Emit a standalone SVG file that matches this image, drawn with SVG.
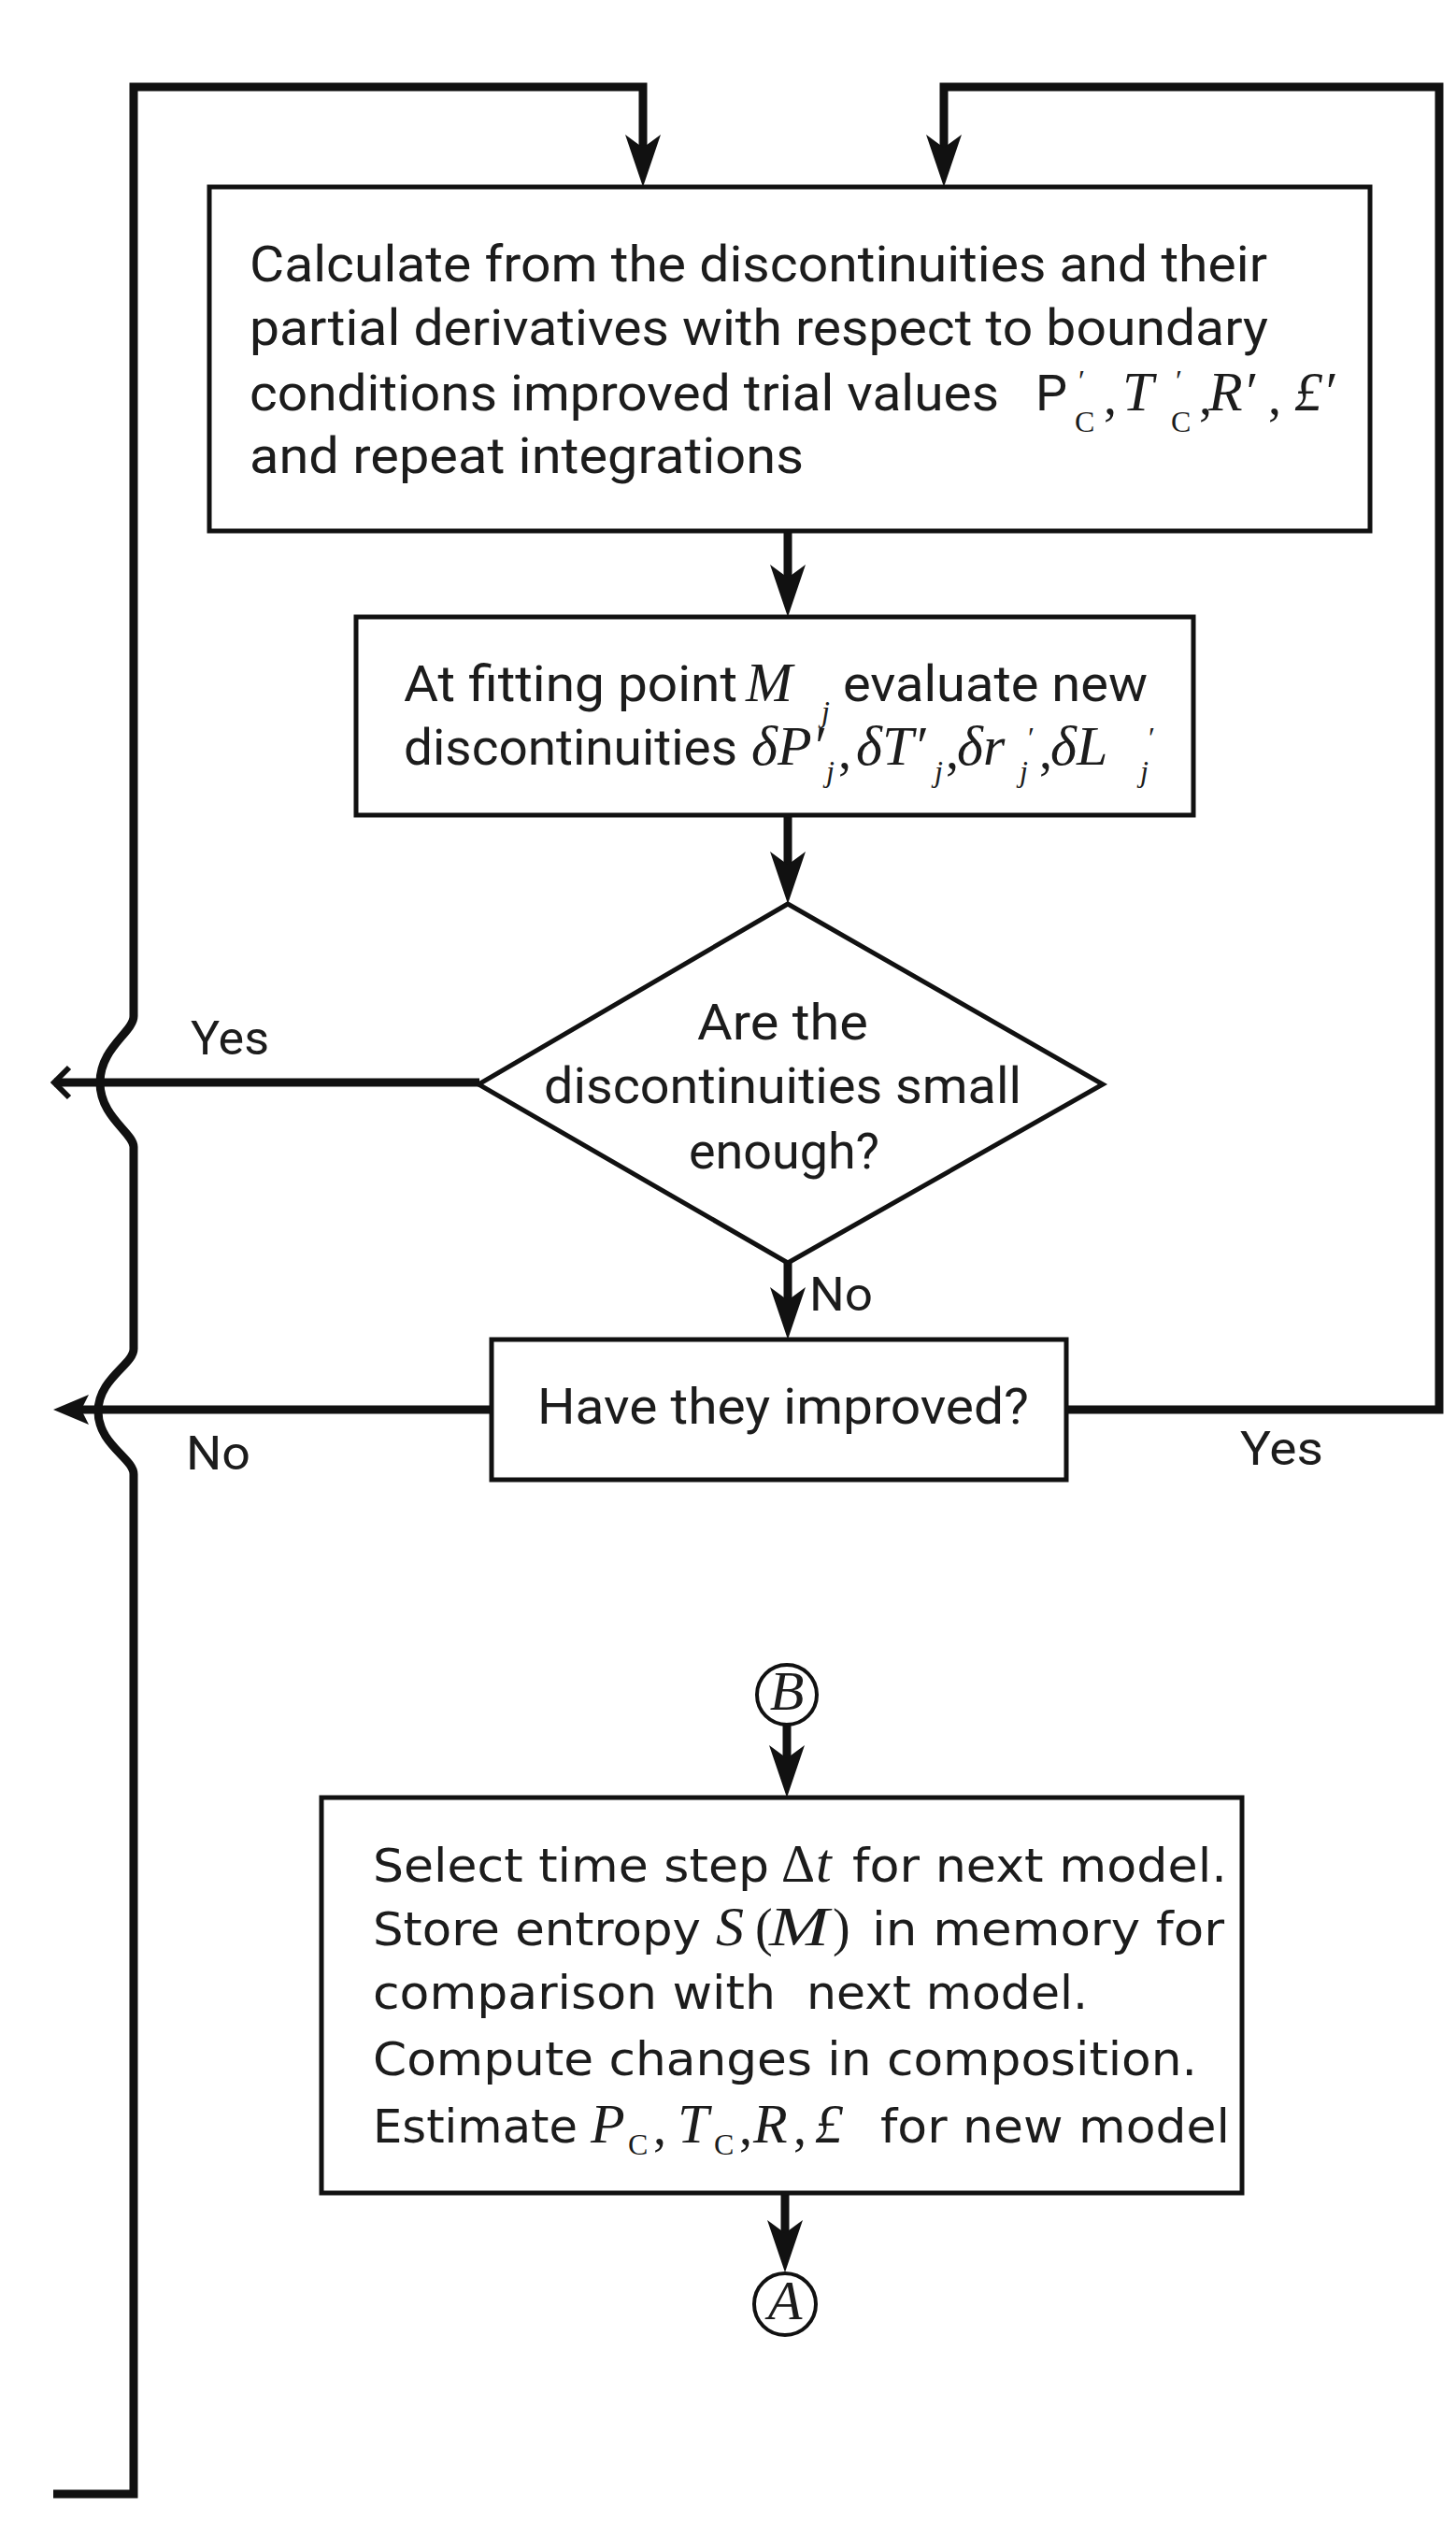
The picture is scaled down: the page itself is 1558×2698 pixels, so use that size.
<svg xmlns="http://www.w3.org/2000/svg" width="1558" height="2698" viewBox="0 0 1558 2698">
<style>
.box{fill:#fff;stroke:#111;stroke-width:5}
.conn{fill:none;stroke:#111;stroke-width:9}
.t{font-family:Roboto,"Liberation Sans",sans-serif;font-size:54px;fill:#1c1c1c}
.t3{font-family:"DejaVu Sans","Liberation Sans",sans-serif;font-size:49px;fill:#1c1c1c}
.lab{font-family:Roboto,"Liberation Sans",sans-serif;font-size:50px;fill:#1c1c1c}
.m{font-family:"Liberation Serif",serif;font-style:italic;font-size:60px;fill:#1c1c1c}
.mu{font-family:"Liberation Serif",serif;font-style:normal;font-size:56px;fill:#1c1c1c}
.sub{font-family:"Liberation Serif",serif;font-size:32px;fill:#1c1c1c}
.circ{fill:#fff;stroke:#111;stroke-width:4}
</style>
<defs>
<marker id="ah" markerUnits="userSpaceOnUse" viewBox="-58 -21 60 42" markerWidth="60" markerHeight="42" refX="-20" refY="0" orient="auto">
<path d="M0,0 L-56,-19 L-42,0 L-56,19 Z" fill="#111"/>
</marker>
<marker id="ah2" markerUnits="userSpaceOnUse" viewBox="-42 -18 44 36" markerWidth="44" markerHeight="36" refX="-14" refY="0" orient="auto">
<path d="M0,0 L-38,-16 L-30,0 L-38,16 Z" fill="#111"/>
</marker>
<marker id="chev" markerUnits="userSpaceOnUse" viewBox="-22 -20 26 40" markerWidth="26" markerHeight="40" refX="0" refY="0" orient="auto">
<path d="M-16,-16 L0,0 L-16,16" fill="none" stroke="#111" stroke-width="6"/>
</marker>
</defs>
<rect width="1558" height="2698" fill="#fff"/>

<g id="connectors">
<path class="conn" d="M57,2668 H143 V1577 C143,1560 105,1545 105,1510 C105,1475 143,1460 143,1443 V1227 C143,1212 107,1195 107,1158 C107,1121 143,1104 143,1087 V93 H688 V180" marker-end="url(#ah)"/>
<path class="conn" d="M1141,1508 H1540 V93 H1010 V180" marker-end="url(#ah)"/>
<path class="conn" d="M843,568 V640" marker-end="url(#ah)"/>
<path class="conn" d="M843,872 V947" marker-end="url(#ah)"/>
<path class="conn" d="M843,1351 V1413" marker-end="url(#ah)"/>
<path class="conn" d="M513,1158 H58" marker-end="url(#chev)"/>
<path class="conn" d="M526,1508 H71" marker-end="url(#ah2)"/>
<path class="conn" d="M842,1845 V1903" marker-end="url(#ah)"/>
<path class="conn" d="M840,2346 V2411" marker-end="url(#ah)"/>
<text class="lab" x="204" y="1128" textLength="84" lengthAdjust="spacingAndGlyphs">Yes</text>
<text class="lab" x="866" y="1402" textLength="68" lengthAdjust="spacingAndGlyphs">No</text>
<text class="lab" x="199" y="1572" textLength="69" lengthAdjust="spacingAndGlyphs">No</text>
<text class="lab" x="1327" y="1567" textLength="89" lengthAdjust="spacingAndGlyphs">Yes</text>
</g>

<g id="box-calculate">
<rect class="box" x="224" y="200" width="1242" height="368"/>
<text class="t" x="267" y="301" textLength="1089" lengthAdjust="spacingAndGlyphs">Calculate from the discontinuities and their</text>
<text class="t" x="267" y="369" textLength="1090" lengthAdjust="spacingAndGlyphs">partial derivatives with respect to boundary</text>
<text class="t" x="267" y="439" textLength="802" lengthAdjust="spacingAndGlyphs">conditions improved trial values</text>
<text class="t" x="1108" y="439">P</text>
<text class="sub" x="1154" y="418">′</text>
<text class="sub" x="1150" y="462">C</text>
<text class="mu" x="1181" y="443">,</text>
<text class="m" x="1201" y="439">T</text>
<text class="sub" x="1258" y="418">′</text>
<text class="sub" x="1253" y="462">C</text>
<text class="mu" x="1283" y="443">,</text>
<text class="m" x="1293" y="439">R′</text>
<text class="mu" x="1357" y="443">,</text>
<text class="m" x="1385" y="439">£′</text>
<text class="t" x="267" y="506" textLength="593" lengthAdjust="spacingAndGlyphs">and repeat integrations</text>
</g>

<g id="box-fitting">
<rect class="box" x="381" y="660" width="896" height="212"/>
<text class="t" x="432" y="750" textLength="357" lengthAdjust="spacingAndGlyphs">At fitting point</text>
<text class="m" x="798" y="750" font-size="64">M</text>
<text class="sub" x="879" y="772" font-style="italic">j</text>
<text class="t" x="902" y="750" textLength="326" lengthAdjust="spacingAndGlyphs">evaluate new</text>
<text class="t" x="432" y="818" textLength="357" lengthAdjust="spacingAndGlyphs">discontinuities</text>
<text class="m" x="804" y="818">δP′</text>
<text class="sub" x="884" y="836" font-style="italic">j</text>
<text class="mu" x="897" y="822">,</text>
<text class="m" x="916" y="818">δT′</text>
<text class="sub" x="1000" y="836" font-style="italic">j</text>
<text class="mu" x="1012" y="822">,</text>
<text class="m" x="1024" y="818">δr</text>
<text class="sub" x="1091" y="836" font-style="italic">j</text>
<text class="sub" x="1100" y="800">′</text>
<text class="mu" x="1112" y="822">,</text>
<text class="m" x="1124" y="818">δL</text>
<text class="sub" x="1220" y="836" font-style="italic">j</text>
<text class="sub" x="1229" y="800">′</text>
</g>

<g id="decision-small">
<polygon class="box" points="843,967 1180,1160 843,1351 512,1160"/>
<text class="t" x="746" y="1112" textLength="183" lengthAdjust="spacingAndGlyphs">Are the</text>
<text class="t" x="582" y="1180" textLength="511" lengthAdjust="spacingAndGlyphs">discontinuities small</text>
<text class="t" x="737" y="1250" textLength="204" lengthAdjust="spacingAndGlyphs">enough?</text>
</g>

<g id="box-improved">
<rect class="box" x="526" y="1433" width="615" height="150"/>
<text class="t" x="575" y="1523" textLength="526" lengthAdjust="spacingAndGlyphs">Have they improved?</text>
</g>

<g id="connector-B">
<circle class="circ" cx="842" cy="1813" r="32"/>
<text class="m" x="842" y="1829" font-size="46" text-anchor="middle">B</text>
</g>

<g id="box-select">
<rect class="box" x="344" y="1923" width="985" height="423"/>
<text class="t3" x="399" y="2013" textLength="424" lengthAdjust="spacingAndGlyphs">Select time step</text>
<text class="mu" x="836" y="2013" font-size="52">Δ</text>
<text class="m" x="873" y="2013" font-size="56">t</text>
<text class="t3" x="912" y="2013" textLength="401" lengthAdjust="spacingAndGlyphs">for next model.</text>
<text class="t3" x="399" y="2081" textLength="351" lengthAdjust="spacingAndGlyphs">Store entropy</text>
<text class="m" x="766" y="2081" font-size="58">S</text>
<text class="mu" x="808" y="2081" font-size="56">(</text>
<text class="m" x="823" y="2081" font-size="62" textLength="64" lengthAdjust="spacingAndGlyphs">M</text>
<text class="mu" x="891" y="2081" font-size="56">)</text>
<text class="t3" x="933" y="2081" textLength="377" lengthAdjust="spacingAndGlyphs">in memory for</text>
<text class="t3" x="399" y="2149" textLength="431" lengthAdjust="spacingAndGlyphs">comparison with</text>
<text class="t3" x="863" y="2149" textLength="301" lengthAdjust="spacingAndGlyphs">next model.</text>
<text class="t3" x="399" y="2220" textLength="882" lengthAdjust="spacingAndGlyphs">Compute changes in composition.</text>
<text class="t3" x="399" y="2292" textLength="219" lengthAdjust="spacingAndGlyphs">Estimate</text>
<text class="m" x="632" y="2292" font-size="58">P</text>
<text class="sub" x="672" y="2305" font-size="30">C</text>
<text class="mu" x="699" y="2294" font-size="56">,</text>
<text class="m" x="725" y="2292" font-size="58">T</text>
<text class="sub" x="764" y="2305" font-size="30">C</text>
<text class="mu" x="791" y="2294" font-size="56">,</text>
<text class="m" x="806" y="2292" font-size="58">R</text>
<text class="mu" x="849" y="2294" font-size="56">,</text>
<text class="m" x="872" y="2292" font-size="58">£</text>
<text class="t3" x="942" y="2292" textLength="374" lengthAdjust="spacingAndGlyphs">for new model</text>
</g>

<g id="connector-A">
<circle class="circ" cx="840" cy="2465" r="33"/>
<text class="m" x="840" y="2481" font-size="46" text-anchor="middle">A</text>
</g>
</svg>
